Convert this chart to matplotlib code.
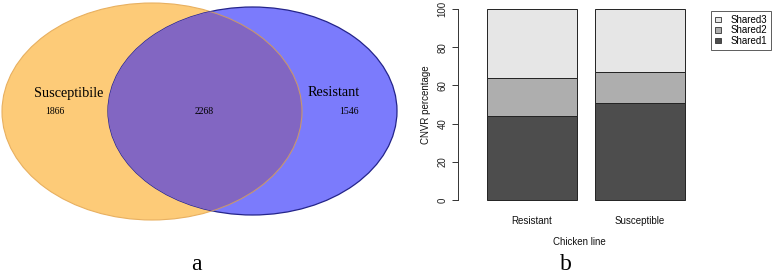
import matplotlib
matplotlib.use('Agg')
import matplotlib.pyplot as plt
from matplotlib.patches import Ellipse, Patch
import numpy as np

# ----------------------------------------------------------------------
# data
# ----------------------------------------------------------------------
venn_names = ['Susceptibile', 'Resistant']
venn_counts = [1866, 2268, 1546]  # left only, shared, right only

lines = ['Resistant', 'Susceptible']
shared1 = [44.0, 51.0]
shared2 = [20.0, 15.8]
shared3 = [36.0, 33.2]
series_names = ['Shared1', 'Shared2', 'Shared3']
series_colors = ['#4D4D4D', '#AEAEAE', '#E6E6E6']
y_ticks = [0, 20, 40, 60, 80, 100]

plt.rcParams['font.family'] = ['Liberation Sans', 'DejaVu Sans']

W, H = 778, 275
fig = plt.figure(figsize=(W / 100, H / 100), dpi=100)

# ----------------------------------------------------------------------
# panel a : venn diagram (axes in pixel units)
# ----------------------------------------------------------------------
ax_v = fig.add_axes([0, 0, 400 / W, 1])
ax_v.set_xlim(0, 400)
ax_v.set_ylim(H, 0)
ax_v.axis('off')

left_e = Ellipse((152, 111.5), 300, 217, facecolor='#FDCB78',
                 edgecolor='#E8B060', lw=0.8, zorder=1)
right_e = Ellipse((252.5, 111), 289, 208, facecolor='#7B7BFC',
                  edgecolor='#24248A', lw=0.9, zorder=2)
ax_v.add_patch(left_e)
ax_v.add_patch(right_e)
overlap = Ellipse((152, 111.5), 300, 217, facecolor='#8266C2',
                  edgecolor='none', zorder=3)
ax_v.add_patch(overlap)
overlap.set_clip_path(right_e)
edge = Ellipse((152, 111.5), 300, 217, facecolor='none',
               edgecolor='#C8966E', lw=0.8, zorder=4)
ax_v.add_patch(edge)
edge.set_clip_path(right_e)

serif = 'Liberation Serif'
ax_v.text(69, 93, venn_names[0], family=serif, fontsize=10.3,
          ha='center', va='center', zorder=5)
ax_v.text(334, 93, venn_names[1], family=serif, fontsize=10.3,
          ha='center', va='center', zorder=5)
for x, c in zip([55, 204, 349], venn_counts):
    ax_v.text(x, 112, str(c), family=serif, fontsize=7,
              ha='center', va='center', zorder=5)
ax_v.text(196, 265, 'a', family=serif, fontsize=17,
          ha='center', va='center')

# ----------------------------------------------------------------------
# panel b : stacked bars
# ----------------------------------------------------------------------
px_left, px_right = 458, 700
px_top, px_bot = 1.4, 207.6
ax_b = fig.add_axes([px_left / W, 1 - px_bot / H,
                     (px_right - px_left) / W, (px_bot - px_top) / H])
x = np.arange(len(lines))
width = 0.833
bottom = np.zeros(len(lines))
for vals, col, name in zip([shared1, shared2, shared3], series_colors, series_names):
    ax_b.bar(x, vals, width, bottom=bottom, color=col, edgecolor='#222222',
             lw=0.7, label=name)
    bottom += np.array(vals)

ax_b.set_ylim(-4, 104)
ax_b.set_xlim((px_left - 532) / 108, (px_right - 532) / 108)
for s in ['top', 'right', 'bottom']:
    ax_b.spines[s].set_visible(False)
ax_b.spines['left'].set_bounds(0, 100)
ax_b.spines['left'].set_linewidth(0.7)
ax_b.spines['left'].set_color('#333333')
ax_b.set_yticks(y_ticks)
ax_b.set_yticklabels([str(t) for t in y_ticks], rotation=90, va='center')
ax_b.tick_params(axis='y', length=4.5, width=0.7, color='#333333',
                 labelsize=7, labelcolor='#222222', pad=3)
ax_b.set_xticks(x)
ax_b.set_xticklabels(lines)
ax_b.tick_params(axis='x', length=0, labelsize=7, labelcolor='#111111', pad=6)
ax_b.set_ylabel('CNVR percentage', fontsize=7, color='#111111', labelpad=5)
ax_b.set_xlabel('Chicken line', fontsize=7, color='#111111', labelpad=8)

handles = [Patch(facecolor=c, edgecolor='#333333', lw=0.6)
           for c in series_colors[::-1]]
leg = fig.legend(handles, series_names[::-1], loc='upper left',
                 bbox_to_anchor=(711 / W, 1 - 11 / H), fontsize=7,
                 frameon=True, fancybox=False, handlelength=0.65,
                 handleheight=0.5, handletextpad=1.0, labelspacing=0.05,
                 borderpad=0.4, borderaxespad=0)
leg.get_frame().set_edgecolor('#333333')
leg.get_frame().set_linewidth(0.7)

fig.text(566 / W, 1 - 265 / H, 'b', family=serif, fontsize=17,
         ha='center', va='center')

fig.savefig('out.png', dpi=100)
